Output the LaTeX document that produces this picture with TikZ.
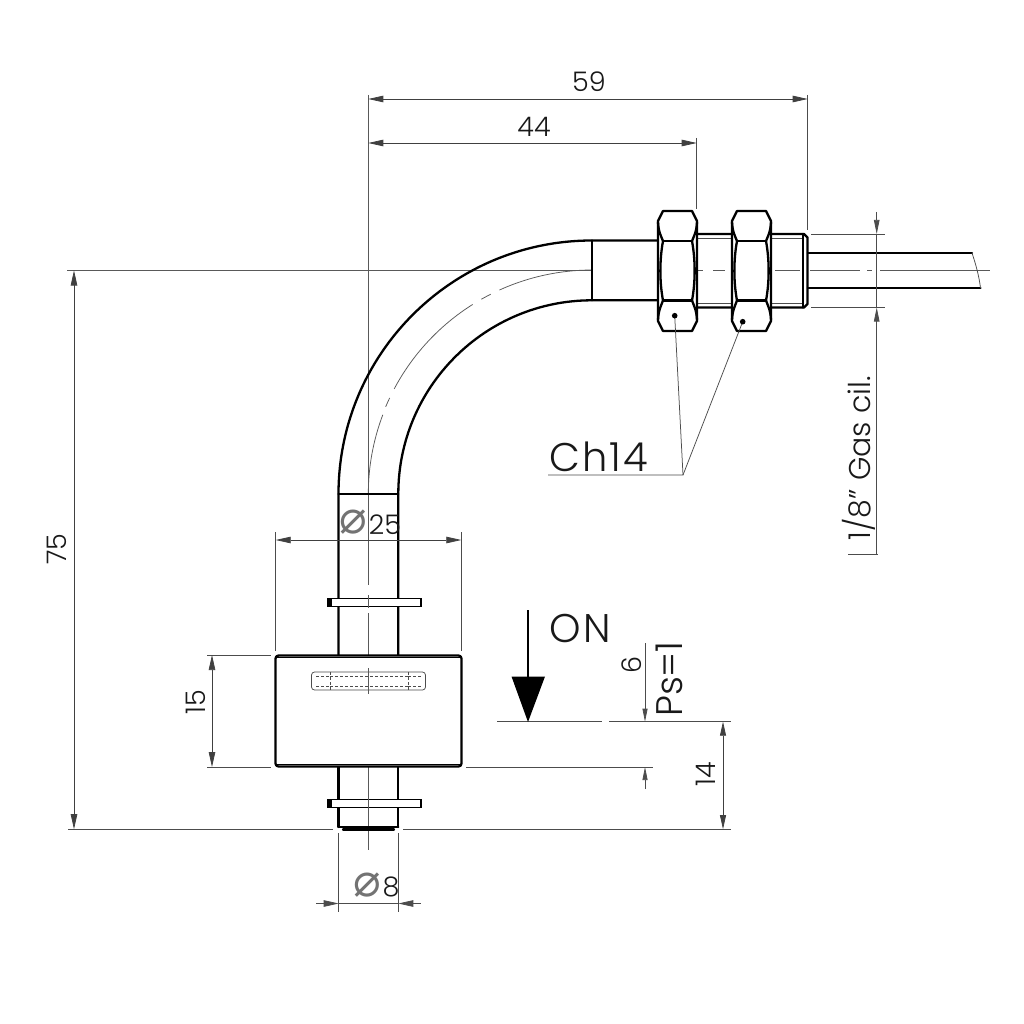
\documentclass[tikz,border=0pt]{standalone}
\usepackage{fontspec}
\setmainfont{Poppins}[UprightFont=* Light]
\newfontfamily\symfont{DejaVu Sans}
\newfontfamily\widefont{Poppins Light}[LetterSpace=5]
\usetikzlibrary{arrows.meta}
\tikzset{
  thick line/.style={line width=2.3pt,black,line join=round,line cap=round},
  thin line/.style={line width=0.75pt,black!70},
  ctr line/.style={line width=0.75pt,black!65},
  dim/.style={line width=0.75pt,black!75,{Stealth[length=15pt,width=6.5pt,inset=0pt]}-{Stealth[length=15pt,width=6.5pt,inset=0pt]}},
  lbl/.style={font=\fontsize{27}{30}\selectfont,inner sep=0pt,text=black!90},
  lblbig/.style={font=\widefont\fontsize{40}{44}\selectfont,inner sep=0pt,text=black!90},
  dia/.style={font=\symfont\fontsize{46}{50}\selectfont,inner sep=0pt,text=black!55},
}
\newcommand{\nutdraw}[1]{%
  \begin{scope}[shift={(#1,0)}]
    \fill[white] (5,211)--(34,211)--(39,221)--(39,321)--(34,331)--(5,331)--(0,321)--(0,221)--cycle;
    \draw[thick line] (5,211)--(34,211)--(39,221)--(39,321)--(34,331)--(5,331)--(0,321)--(0,221)--cycle;
    \draw[thick line] (5,241)--(34,241) (5,300.5)--(34,300.5);
    \draw[thick line] (0,222) .. controls (0.5,232) and (3,236) .. (5,241);
    \draw[thick line] (39,222) .. controls (38.5,232) and (36,236) .. (34,241);
    \draw[thick line] (0,320) .. controls (0.5,310) and (3,306) .. (5,300.5);
    \draw[thick line] (39,320) .. controls (38.5,310) and (36,306) .. (34,300.5);
    \draw[thick line] (5,241) .. controls (1.5,260) and (1.5,282) .. (5,300.5);
    \draw[thick line] (34,241) .. controls (37.5,260) and (37.5,282) .. (34,300.5);
  \end{scope}}
\begin{document}
\begin{tikzpicture}[x=1pt,y=-1pt]
\useasboundingbox (0,0) rectangle (1024,1024);
\fill[white] (0,0) rectangle (1024,1024);

% ---- centre lines
\draw[ctr line] (67,270.5)--(592,270.5);
\draw[ctr line] (698,270.5)--(703,270.5) (713,270.5)--(725,270.5) (775,270.5)--(800,270.5) (810,270.5)--(860,270.5) (867,270.5)--(872,270.5) (880,270.5)--(990,270.5);
\draw[ctr line] (368.3,95)--(368.3,585) (368.3,595)--(368.3,605) (368.3,613)--(368.3,732) (368.3,738)--(368.3,750) (368.3,760)--(368.3,850);
% bend centre line
\draw[ctr line] (368.3,494) arc (180:159.3:224pt);
\draw[ctr line] (592,494) ++(157.1:224pt) arc (157.1:154.6:224pt);
\draw[ctr line] (592,494) ++(152:224pt) arc (152:122.2:224pt);
\draw[ctr line] (592,494) ++(119.6:224pt) arc (119.6:116.9:224pt);
\draw[ctr line] (592,494) ++(114.4:224pt) arc (114.4:90:224pt);

% ---- tube
\draw[thick line] (338.5,655)--(338.5,494) arc (180:90:253.5pt) -- (660,240.5);
\draw[thick line] (398.3,655)--(398.3,494) arc (180:90:193.7pt) -- (660,300.3);
\draw[thick line] (592,240.5)--(592,300.3);
\draw[thick line] (338.5,494)--(398.3,494);

% ---- threaded part
\draw[thin line] (697,238)--(804,238) (697,303)--(804,303);
\draw[thick line] (697,234)--(804,234)--(807.5,237.5)--(807.5,304)--(804,307.5)--(697,307.5);
\draw[thick line] (803,234)--(803,307.5);
\nutdraw{658}
\nutdraw{732}

% ---- cable
\draw[thick line] (808,253)--(972,253);
\draw[thick line] (808,288)--(980.5,288);
\draw[thin line] (972,253) .. controls (976,265) and (979,276) .. (980.5,288);

% ---- lower stem, float
\draw[thick line] (338.5,767)--(338.5,827) (398.3,767)--(398.3,827);
\draw[thick line] (338.5,827)--(398.3,827);
\draw[thick line] (343,829.5)--(394,829.5);
\foreach \yy in {598.5,799.5}{
  \fill[white] (328,\yy) rectangle (421,\yy+8);
  \draw[line width=1.7pt,black] (328,\yy) rectangle (421,\yy+8);
  \fill[black] (328,\yy) rectangle (331.5,\yy+8);
  \draw[ctr line] (368.3,\yy-1)--(368.3,\yy+9);
}
\draw[thick line,rounded corners=3pt,fill=white] (275.5,655.5) rectangle (461.5,766.5);
\draw[line width=1.4pt,black] (276,657.5)--(461,657.5) (276,764.5)--(461,764.5);
% slot
\draw[thin line,rounded corners=3pt] (311.5,672) rectangle (425.5,690);
\draw[thin line,densely dashed] (330,676)--(408,676) (330,686)--(408,686);
\draw[thin line,densely dashed] (330,672)--(330,690) (408,672)--(408,690) (316,676)--(330,676) (316,686)--(330,686) (408,676)--(421,676) (408,686)--(421,686);
\draw[ctr line] (368.3,668)--(368.3,694);

% ---- extension lines
\draw[thin line] (807.7,95)--(807.7,230);
\draw[thin line] (696.7,138)--(696.7,209);
\draw[thin line] (811,234)--(885,234) (811,307.5)--(885,307.5);
\draw[thin line] (275.7,532)--(275.7,651) (461.3,532)--(461.3,651);
\draw[thin line] (207,655)--(271,655) (207,767)--(271,767);
\draw[thin line] (466,767)--(653,767);
\draw[thin line] (68,829.2)--(333,829.2) (403,829.2)--(731,829.2);
\draw[thin line] (338.7,833)--(338.7,912) (398.3,833)--(398.3,912);
\draw[thin line] (497,721.7)--(602,721.7) (609,721.7)--(731,721.7);

% ---- dimensions
\draw[dim] (368.3,99)--(807.7,99);
\node[lbl] (d59) at (589,82) {59};
\draw[dim] (368.3,143)--(696.7,143);
\node[lbl] (d44) at (534,127) {44};
\draw[dim] (275.7,540)--(461.3,540);
\node[dia] (dia25) at (353,522) {⌀};
\node[lbl] (d25) at (385,525) {25};
\draw[dim] (212,655)--(212,767);
\node[lbl,rotate=90] (d15) at (196,702) {15};
\draw[dim] (74,270.5)--(74,829.2);
\node[lbl,rotate=90] (d75) at (57,549) {75};
\draw[dim,{Stealth[length=14pt,width=6pt,inset=0pt]}-{Stealth[length=14pt,width=6pt,inset=0pt]}] (723,721.7)--(723,829.2);
\node[lbl,rotate=90] (d14) at (706,774) {14};
% Ø8
\draw[thin line,-{Stealth[length=15pt,width=6.5pt,inset=0pt]}] (316,903.5)--(338.7,903.5);
\draw[thin line,-{Stealth[length=15pt,width=6.5pt,inset=0pt]}] (420.7,903.5)--(398.3,903.5);
\draw[thin line] (338.7,903.5)--(398.3,903.5);
\node[dia] (dia8) at (367,885) {⌀};
\node[lbl] (d8) at (391,887) {8};
% 6
\draw[thin line,-{Stealth[length=13pt,width=5pt,inset=0pt]}] (645,643)--(645,721.7);
\draw[thin line,-{Stealth[length=13pt,width=5pt,inset=0pt]}] (645,789)--(645,767);
\node[lbl,rotate=90] (d6) at (632,665) {6};
\node[font=\fontsize{37}{40}\selectfont,inner sep=0pt,rotate=90,text=black!90] (ps) at (669,679) {Ps=1};
% thread
\draw[thin line,-{Stealth[length=14pt,width=5.5pt,inset=0pt]}] (876.7,212)--(876.7,234);
\draw[thin line,-{Stealth[length=14pt,width=5.5pt,inset=0pt]}] (876.7,554)--(876.7,307.5);
\draw[thin line] (876.7,234)--(876.7,307.5);
\draw[thin line] (848,554)--(878,554);
\node[font=\fontsize{30}{33}\selectfont,inner sep=0pt,rotate=90,text=black!90] (gas) at (859,458) {1/8\symbol{34} Gas cil.};

% ---- Ch14 leader
\coordinate (lead) at (683,475);
\coordinate (d1) at (674.7,315.7);
\coordinate (d2) at (742.7,321.7);
\draw[thin line] (548,475)--(lead)--(d1);
\draw[thin line] (lead)--(d2);
\fill (d1) circle (2.8pt) (d2) circle (2.8pt);
\node[lblbig] (ch) at (599,457) {Ch14};

% ---- ON
\draw[line width=2pt,black] (528,610)--(528,680);
\fill[black] (511.5,676.5)--(545,676.5)--(528,722)--cycle;
\node[lblbig] (on) at (580,628) {ON};
\end{tikzpicture}
\end{document}
